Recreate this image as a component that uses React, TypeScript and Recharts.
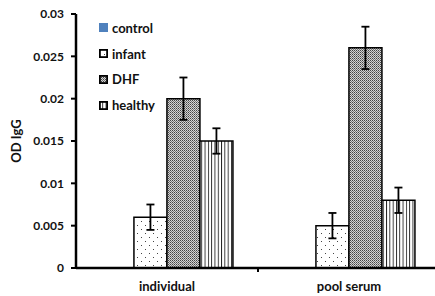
import { BarChart, Bar, XAxis, YAxis, ErrorBar, Label } from "recharts";

const categories = ["individual", "pool serum"];
const controlValues = [0, 0];
const infantValues = [0.006, 0.005];
const infantErrors = [0.0015, 0.0015];
const dhfValues = [0.02, 0.026];
const dhfErrors = [0.0025, 0.0025];
const healthyValues = [0.015, 0.008];
const healthyErrors = [0.0015, 0.0015];
const yTicks = [0, 0.005, 0.01, 0.015, 0.02, 0.025, 0.03];

const FONT = "Lato, 'Open Sans', sans-serif";

const SERIES = [
  { key: "control", name: "control", fill: "#4F81BD" },
  { key: "infant", name: "infant", fill: "url(#pat-infant)" },
  { key: "DHF", name: "DHF", fill: "url(#pat-dhf)" },
  { key: "healthy", name: "healthy", fill: "url(#pat-healthy)" },
];

const data = categories.map((name, i) => ({
  name,
  control: controlValues[i],
  infant: infantValues[i],
  infantErr: infantErrors[i],
  DHF: dhfValues[i],
  DHFErr: dhfErrors[i],
  healthy: healthyValues[i],
  healthyErr: healthyErrors[i],
}));

function PatternDefs() {
  return (
    <svg width={0} height={0} style={{ position: "absolute" }}>
      <defs>
        <pattern id="pat-infant" width={8} height={8} patternUnits="userSpaceOnUse">
          <rect width={8} height={8} fill="#fff" />
          <rect x={1} y={1} width={1} height={1} fill="#444" />
          <rect x={5} y={5} width={1} height={1} fill="#444" />
        </pattern>
        <pattern id="pat-dhf" width={2} height={2} patternUnits="userSpaceOnUse">
          <rect width={2} height={2} fill="#d4d4d4" />
          <rect x={0} y={0} width={1} height={1} fill="#444" />
          <rect x={1} y={1} width={1} height={1} fill="#777" />
        </pattern>
        <pattern id="pat-healthy" width={3.3} height={4} patternUnits="userSpaceOnUse">
          <rect width={3.3} height={4} fill="#fff" />
          <rect x={0} y={0} width={0.9} height={4} fill="#222" />
        </pattern>
      </defs>
    </svg>
  );
}

// legend drawn as an overlay so it doesn't eat into the plot area
function LegendBox() {
  return (
    <div
      style={{
        position: "absolute",
        left: 99,
        top: 15,
        fontFamily: FONT,
        fontWeight: 700,
        fontSize: 13,
        color: "#111",
      }}
    >
      {SERIES.map(s => {
        const solid = s.key === "control";
        return (
          <div key={s.key} style={{ display: "flex", alignItems: "center", height: 25.8 }}>
            <svg width={9} height={9} style={{ marginRight: 4 }}>
              <rect
                x={solid ? 0 : 0.9}
                y={solid ? 0 : 0.9}
                width={solid ? 9 : 7.2}
                height={solid ? 9 : 7.2}
                fill={s.fill}
                stroke={solid ? "none" : "#000"}
                strokeWidth={1.8}
              />
            </svg>
            <span>{s.name}</span>
          </div>
        );
      })}
    </div>
  );
}

const XTick = ({ x, y, payload, index }: any) => (
  <g>
    <text x={x} y={y} dy={15} textAnchor="middle" fontFamily={FONT} fontWeight={700} fontSize={13} fill="#111">
      {payload.value}
    </text>
    {index === 0 && (
      <line x1={x + payload.offset} x2={x + payload.offset} y1={y - 8} y2={y - 4} stroke="#000" strokeWidth={2} />
    )}
  </g>
);

export default function App() {
  return (
    <div style={{ position: "absolute", left: 0, top: 0, width: 435, height: 296, overflow: "hidden", background: "#fff" }}>
      <PatternDefs />
      <BarChart
        width={440}
        height={296}
        data={data}
        margin={{ top: 14, right: 0, left: 0, bottom: 0 }}
        barGap={0}
        barCategoryGap="13.7%"
      >
        <XAxis
          dataKey="name"
          axisLine={{ stroke: "#000", strokeWidth: 2.5 }}
          tickLine={false}
          height={28}
          tick={<XTick />}
          interval={0}
        />
        <YAxis
          width={76}
          domain={[0, 0.03]}
          ticks={yTicks}
          tickFormatter={(v: number) => String(v)}
          axisLine={{ stroke: "#000", strokeWidth: 2.5 }}
          tickLine={{ stroke: "#000", strokeWidth: 2 }}
          tickSize={5}
          tickMargin={7}
          tick={{ fontFamily: FONT, fontWeight: 700, fontSize: 12, fill: "#111" }}
        >
          <Label
            content={({ viewBox }: any) => {
              const cx = 16;
              const cy = viewBox.y + viewBox.height / 2;
              return (
                <text
                  x={cx}
                  y={cy}
                  transform={`rotate(-90 ${cx} ${cy})`}
                  textAnchor="middle"
                  dominantBaseline="central"
                  fontFamily={FONT}
                  fontWeight={700}
                  fontSize={13}
                  fill="#111"
                >
                  OD IgG
                </text>
              );
            }}
          />
        </YAxis>
        {SERIES.map(s => (
          <Bar
            key={s.key}
            dataKey={s.key}
            name={s.name}
            fill={s.fill}
            stroke={s.key === "control" ? "none" : "#000"}
            strokeWidth={1.5}
            isAnimationActive={false}
          >
            {s.key !== "control" && (
              <ErrorBar dataKey={`${s.key}Err`} width={4} stroke="#000" strokeWidth={1.8} direction="y" />
            )}
          </Bar>
        ))}
      </BarChart>
      <LegendBox />
    </div>
  );
}
